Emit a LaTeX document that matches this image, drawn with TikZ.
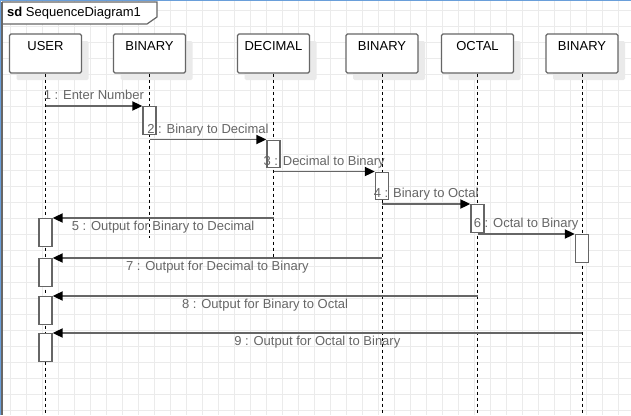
\documentclass[tikz,border=0pt]{standalone}
\usepackage{fontspec}
\setmainfont{Liberation Sans}
\usetikzlibrary{arrows.meta,shadows}
\definecolor{gridc}{HTML}{EBEBEB}
\definecolor{linec}{HTML}{666666}
\definecolor{shadowc}{HTML}{EAEAEA}
\definecolor{selc}{HTML}{6A9FDA}
\begin{document}
\begin{tikzpicture}[x=1pt,y=-1pt,
  lbl/.style={font=\fontsize{13}{15}\selectfont, inner sep=0pt, text height=9.5pt, text depth=2.5pt},
  head/.style={draw=linec, line width=1.3pt, fill=white, rounded corners=1.5pt, minimum width=72pt,
    inner sep=0pt, text height=16.9pt, text depth=22.1pt, font=\fontsize{13}{15}\selectfont,
    general shadow={fill=shadowc, shadow xshift=7pt, shadow yshift=-7pt}},
  life/.style={black, line width=0.9pt, dash pattern=on 3pt off 3pt},
  act/.style={draw=linec, line width=1.3pt, fill=white, minimum width=13pt, minimum height=27.5pt, inner sep=0pt, anchor=north},
  msg/.style={linec, line width=1.8pt, -{Triangle[length=10pt,width=9pt,black]}},
  frm/.style={linec, line width=1.2pt},
]
\useasboundingbox (0,0) rectangle (631,415);
\fill[white] (0,0) rectangle (631,415);
% grid
\foreach \i in {0,...,39} {
  \draw[gridc, line width=0.9pt] (10.7+16*\i,0) -- (10.7+16*\i,415);
}
\foreach \i in {0,...,25} {
  \draw[gridc, line width=0.9pt] (0,10.7+16*\i) -- (631,10.7+16*\i);
}
% selection border
\draw[selc, line width=1pt] (0.5,415) -- (0.5,0.5) -- (631,0.5);
% frame tab
\draw[frm, fill=white] (2,2) -- (157,2) -- (157,17) -- (147,24) -- (2,24);
\draw[frm] (2,2) -- (2,415);
\node[lbl, anchor=west] (sdlabel) at (7,13) {\textbf{sd} SequenceDiagram1};

% lifeline heads
\node[head] (user) at (45.5,53.5) {USER};
\node[head] (bin1) at (149.5,53.5) {BINARY};
\node[head] (dec) at (273.5,53.5) {DECIMAL};
\node[head] (bin2) at (382,53.5) {BINARY};
\node[head] (oct) at (477.5,53.5) {OCTAL};
\node[head] (bin3) at (582,53.5) {BINARY};

% lifeline ends
\coordinate (userE) at (user.south |- 0,415);
\coordinate (bin1E) at (bin1.south |- 0,238);
\coordinate (decE) at (dec.south |- 0,257);
\coordinate (bin2E) at (bin2.south |- 0,415);
\coordinate (octE) at (oct.south |- 0,415);
\coordinate (bin3E) at (bin3.south |- 0,415);
\draw[life] (user.south) -- (userE);
\draw[life] (bin1.south) -- (bin1E);
\draw[life] (dec.south) -- (decE);
\draw[life] (bin2.south) -- (bin2E);
\draw[life] (oct.south) -- (octE);
\draw[life] (bin3.south) -- (bin3E);

% activations
\node[act] (a1) at (bin1.south |- 0,106) {};
\node[act] (a2) at (dec.south |- 0,139.5) {};
\node[act] (a3) at (bin2.south |- 0,171.5) {};
\node[act] (a4) at (oct.south |- 0,204) {};
\node[act] (a6) at (bin3.south |- 0,234) {};
\node[act] (u5) at (user.south |- 0,218) {};
\node[act] (u7) at (user.south |- 0,258) {};
\node[act] (u8) at (user.south |- 0,296) {};
\node[act] (u9) at (user.south |- 0,333) {};

% message sources
\coordinate (s1) at (user.south |- a1.north);
\coordinate (s2) at (bin1.south |- a2.north);
\coordinate (s3) at (dec.south |- a3.north);
\coordinate (s4) at (bin2.south |- a4.north);
\coordinate (s6) at (oct.south |- a6.north);
\coordinate (s5) at (dec.south |- u5.north);
\coordinate (s7) at (bin2.south |- u7.north);
\coordinate (s8) at (oct.south |- u8.north);
\coordinate (s9) at (bin3.south |- u9.north);

% messages
\draw[msg] (s1) -- node[lbl, yshift=10pt] (m1) {1 : Enter Number} (a1.north west);
\draw[msg] (s2) -- node[lbl, yshift=10pt] (m2) {2 : Binary to Decimal} (a2.north west);
\draw[msg] (s3) -- node[lbl, yshift=10pt] (m3) {3 : Decimal to Binary} (a3.north west);
\draw[msg] (s4) -- node[lbl, yshift=10pt] (m4) {4 : Binary to Octal} (a4.north west);
\draw[msg] (s6) -- node[lbl, yshift=10pt] (m6) {6 : Octal to Binary} (a6.north west);
\draw[msg] (s5) -- node[lbl, yshift=-9pt] (m5) {5 : Output for Binary to Decimal} (u5.north east);
\draw[msg] (s7) -- node[lbl, yshift=-9pt] (m7) {7 : Output for Decimal to Binary} (u7.north east);
\draw[msg] (s8) -- node[lbl, yshift=-9pt] (m8) {8 : Output for Binary to Octal} (u8.north east);
\draw[msg] (s9) -- node[lbl, yshift=-9pt] (m9) {9 : Output for Octal to Binary} (u9.north east);
\end{tikzpicture}
\end{document}
